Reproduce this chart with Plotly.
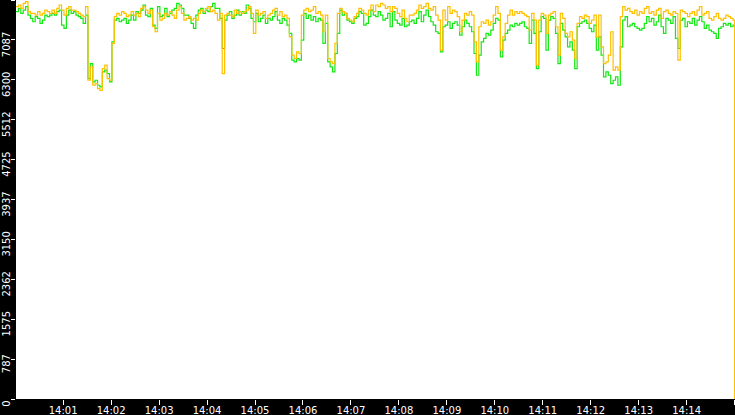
import pandas as pd
import plotly.graph_objects as go

# readings every 3 seconds from 14:00:01, last sample at 14:15:00
orange_values = [
    7743, 7776, 7710, 7809, 7842, 7644, 7611, 7611, 7578, 7644,
    7578, 7611, 7677, 7644, 7611, 7677, 7611, 7710, 7776, 7677,
    7578, 7710, 7743, 7677, 7677, 7644, 7611, 7578, 7545, 7743,
    6291, 6555, 6192, 6225, 6126, 6093, 6522, 6588, 6324, 6291,
    7017, 7545, 7611, 7578, 7644, 7611, 7545, 7578, 7644, 7578,
    7611, 7545, 7710, 7743, 7677, 7611, 7677, 7347, 7248, 7611,
    7479, 7512, 7611, 7578, 7644, 7578, 7512, 7677, 7743, 7611,
    7479, 7512, 7545, 7479, 7512, 7479, 7611, 7677, 7644, 7710,
    7743, 7644, 7677, 7611, 7479, 7611, 6423, 7578, 7611, 7578,
    7545, 7677, 7611, 7644, 7611, 7644, 7677, 7743, 7611, 7215,
    7677, 7578, 7611, 7644, 7512, 7578, 7611, 7677, 7710, 7578,
    7644, 7545, 7578, 7512, 7149, 6786, 6720, 6852, 6819, 7578,
    7677, 7710, 7644, 7677, 7743, 7611, 7644, 7578, 7248, 7578,
    6720, 6654, 6621, 7017, 7611, 7710, 7644, 7611, 7512, 7479,
    7446, 7545, 7611, 7710, 7677, 7611, 7578, 7677, 7776, 7644,
    7776, 7743, 7809, 7776, 7710, 7743, 7644, 7743, 7710, 7611,
    7545, 7677, 7512, 7446, 7578, 7578, 7611, 7677, 7776, 7710,
    7743, 7809, 7710, 7677, 7743, 7578, 7479, 6885, 7677, 7479,
    7743, 7611, 7677, 7644, 7545, 7248, 7479, 7611, 7578, 7644,
    7578, 7050, 6654, 7347, 7446, 7413, 7479, 7380, 7446, 7578,
    7743, 7611, 6885, 7149, 7413, 7578, 7677, 7578, 7644, 7611,
    7644, 7611, 7578, 7545, 7281, 7611, 7479, 6588, 7479, 7611,
    7578, 7215, 7578, 7611, 7644, 7347, 6786, 7611, 7512, 7215,
    7149, 7248, 7083, 6720, 7413, 7545, 7512, 7578, 7545, 7413,
    7479, 7578, 7149, 7578, 6951, 6621, 6654, 6786, 7248, 6489,
    6555, 6489, 7545, 7743, 7677, 7710, 7644, 7611, 7677, 7578,
    7644, 7611, 7710, 7743, 7611, 7644, 7578, 7677, 7710, 7512,
    7644, 7677, 7611, 7578, 7644, 7611, 6687, 7677, 7644, 7611,
    7545, 7611, 7644, 7578, 7677, 7743, 7578, 7611, 7644, 7512,
    7479, 7545, 7611, 7512, 7479, 7512, 7578, 7545, 7512, 7479,
    0,
]

green_values = [
    7644, 7710, 7611, 7677, 7743, 7578, 7512, 7446, 7545, 7512,
    7413, 7479, 7578, 7545, 7578, 7611, 7578, 7644, 7677, 7380,
    7314, 7578, 7677, 7611, 7644, 7578, 7545, 7512, 7413, 7578,
    6324, 6621, 6258, 6291, 6192, 6159, 6456, 6489, 6423, 6258,
    7050, 7479, 7512, 7446, 7479, 7512, 7413, 7479, 7578, 7479,
    7644, 7611, 7677, 7776, 7578, 7545, 7710, 7380, 7314, 7743,
    7545, 7578, 7710, 7545, 7611, 7677, 7710, 7809, 7776, 7710,
    7578, 7578, 7512, 7413, 7314, 7578, 7677, 7710, 7611, 7677,
    7644, 7743, 7809, 7710, 7710, 7512, 6918, 7479, 7578, 7644,
    7512, 7578, 7677, 7578, 7644, 7611, 7776, 7710, 7512, 7446,
    7611, 7446, 7512, 7578, 7413, 7512, 7479, 7545, 7644, 7479,
    7413, 7512, 7479, 7380, 7215, 6687, 6654, 6720, 6687, 7083,
    7611, 7512, 7578, 7479, 7545, 7446, 7512, 7479, 7017, 7413,
    6654, 6555, 6456, 6819, 7215, 7677, 7578, 7611, 7479, 7446,
    7413, 7512, 7545, 7644, 7611, 7380, 7413, 7545, 7677, 7578,
    7545, 7644, 7578, 7479, 7512, 7611, 7347, 7644, 7479, 7413,
    7380, 7512, 7347, 7380, 7446, 7479, 7413, 7512, 7644, 7446,
    7578, 7677, 7545, 7446, 7380, 7248, 7215, 6852, 7347, 7380,
    7446, 7314, 7413, 7446, 7380, 7182, 7347, 7479, 7413, 7347,
    7248, 6819, 6390, 6786, 7050, 7116, 7215, 7182, 7281, 7413,
    7512, 7479, 6753, 7083, 7215, 7281, 7380, 7347, 7413, 7380,
    7413, 7446, 7347, 7314, 7017, 7479, 7215, 6522, 7248, 7545,
    7512, 6885, 7479, 7545, 7512, 7215, 6621, 7413, 7281, 7149,
    6951, 7050, 6885, 6522, 7347, 7413, 7446, 7479, 7413, 7314,
    7248, 7380, 6885, 7149, 6786, 6357, 6456, 6390, 6225, 6291,
    6357, 6192, 6951, 7479, 7545, 7347, 7380, 7413, 7347, 7314,
    7281, 7314, 7413, 7545, 7446, 7512, 7380, 7446, 7578, 7347,
    7215, 7512, 7479, 7413, 7545, 7116, 6918, 7479, 7512, 7347,
    7446, 7413, 7512, 7380, 7479, 7545, 7446, 7314, 7380, 7281,
    7248, 7215, 7116, 7314, 7347, 7413, 7380, 7413, 7347, 7380,
    3720,
]

y_ticks = [0, 787, 1575, 2362, 3150, 3937, 4725, 5512, 6300, 7087, 7875]

times = list(pd.date_range("2024-01-01 14:00:01", periods=300, freq="3s"))
times.append(pd.Timestamp("2024-01-01 14:15:00"))

fig = go.Figure()

fig.add_trace(
    go.Scatter(
        x=times,
        y=green_values,
        mode="lines",
        name="green",
        line=dict(color="#14e814", width=1.2, shape="hv"),
    )
)

fig.add_trace(
    go.Scatter(
        x=times,
        y=orange_values,
        mode="lines",
        name="orange",
        line=dict(color="#ffc000", width=1.2, shape="hv"),
    )
)

fig.update_layout(
    width=735,
    height=415,
    margin=dict(l=16, r=0, t=0, b=16, autoexpand=False),
    paper_bgcolor="black",
    plot_bgcolor="white",
    showlegend=False,
    font=dict(family="DejaVu Sans", size=10, color="white"),
)

fig.update_xaxes(
    range=["2024-01-01 14:00:01", "2024-01-01 14:15:00.5"],
    tick0="2024-01-01 14:00:00",
    dtick=60000,
    tickformat="%H:%M",
    ticks="outside",
    ticklen=5,
    tickcolor="white",
    ticklabelstandoff=-3,
    automargin=False,
    showgrid=False,
    zeroline=False,
    showline=False,
)

fig.update_yaxes(
    range=[0, 7875],
    tickvals=y_ticks,
    ticktext=[str(v) for v in y_ticks],
    tickangle=-90,
    ticklabelshift=6,
    ticklabelstandoff=-3,
    ticks="outside",
    ticklen=4,
    tickcolor="white",
    automargin=False,
    showgrid=False,
    zeroline=False,
    showline=False,
)

# page body has a default margin, drop it so the chart fills the window
fig.write_html(
    "out.html",
    config={"displayModeBar": False},
    post_script="document.body.style.margin='0';document.body.style.overflow='hidden';",
)
